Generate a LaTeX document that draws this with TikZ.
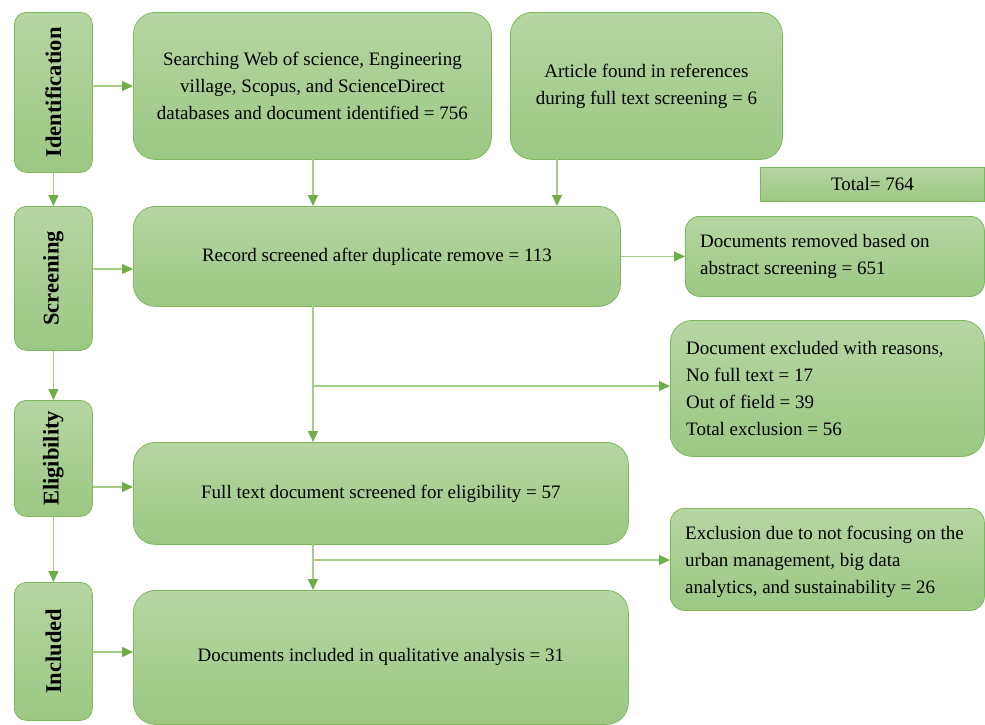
\documentclass[tikz,border=0pt]{standalone}
\usepackage{fontspec}
\setmainfont{Liberation Serif}
\usetikzlibrary{arrows.meta}
\definecolor{gtop}{HTML}{B5D6A3}
\definecolor{gbot}{HTML}{9BC883}
\definecolor{edgeG}{HTML}{7EB75B}
\definecolor{lineG}{HTML}{A3CE88}
\definecolor{headG}{HTML}{70AD47}
\tikzset{
  box/.style={draw=edgeG, line width=0.8pt, top color=gtop, bottom color=gbot, rounded corners=#1, anchor=north west, inner sep=0pt, align=center,
    font=\fontsize{19}{27}\selectfont},
  box/.default=22pt,
  stage/.style={box=12pt},
  stagetxt/.style={rotate=90, font=\fontsize{22.5}{26}\selectfont\bfseries},
  lbl/.style={font=\fontsize{19}{27}\selectfont, align=left, anchor=west, inner sep=0pt},
  conn/.style={draw=lineG, line width=1.2pt, -{Triangle[length=11pt,width=10pt,color=headG]}}
}
\begin{document}
\begin{tikzpicture}[x=1pt,y=-1pt]
\useasboundingbox (0,0) rectangle (985,724);
% stage boxes
\node[stage, minimum width=78pt, minimum height=160pt] (id) at (14,12) {};
\node[stagetxt] at (id.center) {Identification};
\node[stage, minimum width=78pt, minimum height=144pt] (sc) at (14,206) {};
\node[stagetxt] at (sc.center) {Screening};
\node[stage, minimum width=78pt, minimum height=116pt] (el) at (14,400) {};
\node[stagetxt] at (el.center) {Eligibility};
\node[stage, minimum width=78pt, minimum height=138pt] (in) at (14,582) {};
\node[stagetxt] at (in.center) {Included};
% main boxes
\node[box, minimum width=358pt, minimum height=147pt] (search) at (133,12) {Searching Web of science, Engineering\\village, Scopus, and ScienceDirect\\databases and document identified = 756};
\node[box, minimum width=272pt, minimum height=147pt] (article) at (510,12) {Article found in references\\during full text screening = 6};
\node[box=0pt, minimum width=224pt, minimum height=34pt] (total) at (760,167) {Total= 764};
\node[box, minimum width=487pt, minimum height=100pt] (record) at (133,206) {Record screened after duplicate remove = 113};
\node[box=14pt, minimum width=299pt, minimum height=80pt] (removed) at (685,216) {};
\node[lbl] at ([xshift=15pt]removed.west) {Documents removed based on\\abstract screening = 651};
\node[box, minimum width=314pt, minimum height=136pt] (excl) at (670,320) {};
\node[lbl] at ([xshift=16pt]excl.west) {Document excluded with reasons,\\No full text = 17\\Out of field = 39\\Total exclusion = 56};
\node[box, minimum width=495pt, minimum height=102pt] (full) at (133,442) {Full text document screened for eligibility = 57};
\node[box=14pt, minimum width=314pt, minimum height=102pt] (focus) at (670,508) {};
\node[lbl] at ([xshift=15pt,yshift=-2pt]focus.west) {Exclusion due to not focusing on the\\urban management, big data\\analytics, and sustainability = 26};
\node[box, minimum width=495pt, minimum height=134pt] (incl) at (133,590) {Documents included in qualitative analysis = 31};
% connectors
\draw[conn] (id.east |- 0,86) -- (search.west |- 0,86);
\draw[conn] (id.south) -- (sc.north);
\draw[conn] (sc.east |- 0,269) -- (record.west |- 0,269);
\draw[conn] (sc.south) -- (el.north);
\draw[conn] (el.east |- 0,487) -- (full.west |- 0,487);
\draw[conn] (el.south) -- (in.north);
\draw[conn] (in.east |- 0,652) -- (incl.west |- 0,652);
\coordinate (s1) at (313,159);
\draw[conn] (s1) -- (record.north -| s1);
\coordinate (a1) at (557,159);
\draw[conn] (a1) -- (record.north -| a1);
\draw[conn] (record.east |- removed.west) -- (removed.west);
\coordinate (r1) at (313,306);
\coordinate (b1) at (313,386);
\draw[conn] (r1) -- (full.north -| r1);
\draw[conn] (b1) -- (excl.west |- b1);
\coordinate (r2) at (313,544);
\coordinate (b2) at (313,560);
\draw[conn] (r2) -- (incl.north -| r2);
\draw[conn] (b2) -- (focus.west |- b2);
\end{tikzpicture}
\end{document}
